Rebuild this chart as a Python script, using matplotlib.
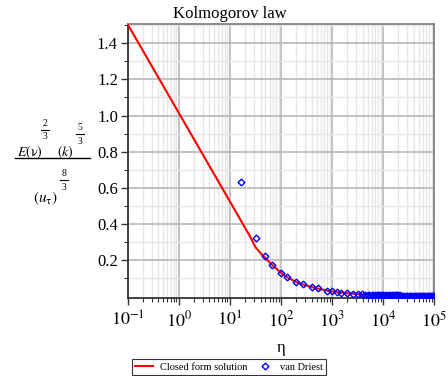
import matplotlib
matplotlib.use("Agg")
import matplotlib.pyplot as plt
from matplotlib.lines import Line2D
from matplotlib.ticker import LogLocator, FixedLocator, NullFormatter, FixedFormatter

plt.rcParams['font.family'] = ['Liberation Serif', 'DejaVu Serif']
plt.rcParams['mathtext.fontset'] = 'stix'

# Closed form solution (red line)
line_x = [0.1, 1, 10, 16.7, 25, 32, 40, 50, 67, 100, 133, 200, 267, 400, 533,
          800, 1000, 2000, 4000, 10000, 100000]
line_y = [1.505, 1.015, 0.525, 0.416, 0.33, 0.27, 0.238, 0.21, 0.173, 0.13, 0.105,
          0.078, 0.065, 0.051, 0.042, 0.031, 0.026, 0.016, 0.009, 0.005, 0.002]

# van Driest points (blue diamonds)
pts_x = [16.7, 33.3, 50, 66.7, 100, 133, 200, 267, 400, 533, 800, 1000, 1250, 1500,
         2000, 2600, 3200, 3900, 4500, 5000, 5400, 6000, 6500, 7000, 7500, 8000, 8500,
         9000, 9500, 10000, 11000, 12000, 13000, 14000, 15000, 16000, 17000, 18000,
         19000, 20000, 21500, 23000, 24500, 26000, 28000, 30000, 32000, 34000, 36000,
         38000, 40000, 42500, 45000, 47500, 50000, 53000, 56000, 59000, 62000, 65000,
         68000, 72000, 76000, 80000, 84000, 88000, 92000, 96000, 100000]
pts_y = [0.634, 0.32, 0.22, 0.173, 0.126, 0.104, 0.078, 0.065, 0.052, 0.043, 0.031,
         0.026, 0.022, 0.019, 0.016, 0.013, 0.011, 0.0095, 0.0088, 0.0082, 0.0078,
         0.0074, 0.007, 0.0066, 0.0063, 0.006, 0.0058, 0.0056, 0.0054, 0.0052, 0.005,
         0.0048, 0.0046, 0.0044, 0.0042, 0.0041, 0.004, 0.0039, 0.0038, 0.0037,
         0.0036, 0.0035, 0.0034, 0.0033, 0.0032, 0.0031, 0.003, 0.0029, 0.0028,
         0.0028, 0.0027, 0.0026, 0.0026, 0.0025, 0.0025, 0.0024, 0.0024, 0.0023,
         0.0023, 0.0022, 0.0022, 0.0021, 0.0021, 0.002, 0.002, 0.0019, 0.0019,
         0.0018, 0.0018]

xtick_vals = [0.1, 1, 10, 100, 1000, 10000, 100000]
xtick_labels = [r'$10^{-1}$', r'$10^{0}$', r'$10^{1}$', r'$10^{2}$', r'$10^{3}$',
                r'$10^{4}$', r'$10^{5}$']
ytick_vals = [0.2, 0.4, 0.6, 0.8, 1.0, 1.2, 1.4]
ytick_labels = ['0.2', '0.4', '0.6', '0.8', '1.0', '1.2', '1.4']

W, H = 448, 376
fig = plt.figure(figsize=(W/100, H/100), dpi=100)
ax = fig.add_axes([127.7/W, 1 - 298.3/H, (434 - 127.7)/W, (298.3 - 24.3)/H])

ax.set_xscale('log')
ax.set_xlim(0.1, 1e5)
ax.set_ylim(-0.012, 1.505)

ax.plot(line_x, line_y, color='#ff0000', lw=1.5, zorder=3, label='Closed form solution')
ax.plot(pts_x, pts_y, linestyle='none', marker='D', markersize=3.4,
        markerfacecolor='none', markeredgecolor='#0000ff', markeredgewidth=1.0,
        zorder=4, label='van Driest')

ax.xaxis.set_major_locator(FixedLocator(xtick_vals))
ax.xaxis.set_major_formatter(FixedFormatter(xtick_labels))
ax.xaxis.set_minor_locator(LogLocator(base=10, subs=[2, 3, 4, 5, 6, 7, 8, 9], numticks=20))
ax.xaxis.set_minor_formatter(NullFormatter())
ax.yaxis.set_major_locator(FixedLocator(ytick_vals))
ax.yaxis.set_major_formatter(FixedFormatter(ytick_labels))
ax.yaxis.set_minor_locator(FixedLocator([0.1, 0.3, 0.5, 0.7, 0.9, 1.1, 1.3, 1.5]))

ax.grid(True, which='major', color='#b8b8b8', lw=1.2, zorder=0)
ax.grid(True, which='minor', color='#e6e6e6', lw=1.0, zorder=0)
ax.set_axisbelow(True)

ax.tick_params(axis='x', which='major', direction='out', length=5, width=1,
               labelsize=13, pad=4, color='#333333')
ax.tick_params(axis='x', which='minor', direction='out', length=3, width=0.8, color='#333333')
ax.tick_params(axis='y', which='major', direction='out', length=5, width=1,
               labelsize=12, pad=2, color='#333333')
ax.tick_params(axis='y', which='minor', direction='out', length=3, width=0.8, color='#333333')

for s in ['left', 'bottom']:
    ax.spines[s].set_color('#333333')
    ax.spines[s].set_linewidth(1.3)
for s in ['top', 'right']:
    ax.spines[s].set_color('#7a7a7a')
    ax.spines[s].set_linewidth(1.2)

fig.text(230/W, 1 - 14/H, 'Kolmogorov law', ha='center', va='center', fontsize=12)
fig.text(281/W, 1 - 348/H, 'η', ha='center', va='center', fontsize=12)


# --- y-axis label built as a Maple-style stacked fraction (pixel coordinates) ---
def ptext(x, y, s, size, ha='center'):
    fig.text(x / W, 1 - y / H, s, ha=ha, va='center', fontsize=size)


def pbar(x0, x1, y, lw=0.8):
    fig.add_artist(Line2D([x0 / W, x1 / W], [1 - y / H, 1 - y / H],
                          transform=fig.transFigure, color='black', lw=lw))


def small_frac(xc, ytop, num, den):
    ptext(xc, ytop, num, 7)
    pbar(xc - 4, xc + 4, ytop + 7)
    ptext(xc, ytop + 14, den, 7)


ptext(17, 152, r'$E(\mathrm{\nu})$', 10, ha='left')
small_frac(45, 123, '2', '3')
ptext(57, 152, r'$(k)$', 10, ha='left')
small_frac(80, 127, '5', '3')
pbar(15, 90, 158, lw=1.0)
ptext(45, 198, r'$\left(u_{\mathrm{\tau}}\right)$', 11)
small_frac(64, 173, '8', '3')

leg = fig.legend(loc='center', bbox_to_anchor=(229/W, 1 - 367/H), ncol=2,
                 fontsize=7.5, frameon=True, fancybox=False, edgecolor='#000000',
                 borderpad=0.3, handlelength=1.8, handletextpad=0.6, columnspacing=0.8,
                 borderaxespad=0)
leg.get_frame().set_linewidth(0.8)

fig.savefig('out.png', dpi=100)
